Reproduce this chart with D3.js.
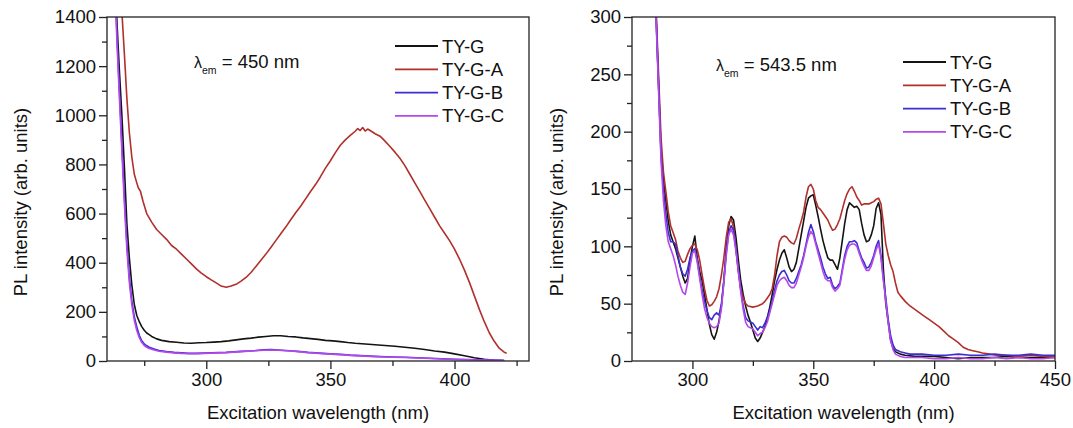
<!DOCTYPE html>
<html>
<head>
<meta charset="utf-8">
<script src="https://cdn.jsdelivr.net/npm/d3@7"></script>
<style>
    body { margin: 0; background: #fff; }
    svg { display: block; font-family: "Liberation Sans", Arial, sans-serif; }
</style>
</head>
<body>
<div class="diagram"></div>
<script>
// ---------- data ----------
let seriesNames = ["TY-G", "TY-G-A", "TY-G-B", "TY-G-C"];
let seriesColors = ["#141414", "#b0302c", "#3a2ed0", "#b448ea"];

// left panel: lambda_em = 450 nm, [excitation nm, intensity]
let leftTYG = [[262, 2000], [263, 1650], [264, 1380], [265, 1180], [266, 1000], [267, 790], [268, 560], [269, 420], [270, 310], [271, 230], [272, 185], [273, 160], [274, 140], [275, 125], [276, 114], [277, 107], [278, 100], [280, 90], [282, 84], [285, 79], [288, 76], [291, 73], [294, 72], [297, 74], [300, 75], [303, 77], [306, 79], [309, 82], [312, 86], [315, 90], [318, 93], [321, 97], [324, 100], [327, 103], [330, 103], [333, 100], [336, 98], [339, 94], [342, 91], [345, 88], [348, 84], [351, 82], [354, 79], [357, 75], [360, 72], [364, 69], [368, 66], [372, 63], [376, 60], [380, 56], [384, 52], [388, 47], [392, 41], [396, 36], [400, 29], [404, 21], [408, 13], [412, 7], [416, 3], [420, 1]];
let leftTYGA = [[262, 1900], [264, 1650], [266, 1420], [267, 1250], [268, 1070], [269, 930], [270, 830], [271, 760], [272, 725], [272.6, 705], [273.5, 690], [274.5, 650], [276, 600], [278, 565], [280, 535], [282, 515], [284, 495], [286, 470], [288, 455], [290, 435], [292, 415], [294, 395], [296, 375], [298, 358], [300, 343], [302, 330], [304, 318], [306, 305], [308, 300], [310, 305], [312, 312], [314, 325], [316, 340], [318, 360], [320, 385], [322, 410], [324, 435], [326, 462], [328, 490], [330, 518], [332, 545], [334, 575], [336, 603], [338, 630], [340, 660], [342, 690], [344, 718], [346, 750], [348, 785], [350, 815], [352, 848], [354, 878], [356, 900], [358, 918], [360, 935], [361, 946], [362, 938], [363, 950], [364, 936], [365, 944], [366, 938], [368, 925], [370, 915], [372, 895], [374, 873], [376, 850], [378, 825], [380, 795], [382, 760], [384, 725], [386, 690], [388, 655], [390, 620], [392, 585], [394, 550], [396, 520], [398, 490], [400, 455], [402, 415], [404, 370], [406, 320], [408, 265], [410, 210], [412, 160], [414, 115], [416, 80], [418, 52], [420, 36], [421, 32]];
let leftTYGB = [[262, 1950], [263, 1600], [264, 1330], [265, 1100], [266, 880], [267, 670], [268, 480], [269, 340], [270, 245], [271, 180], [272, 138], [273, 105], [274, 82], [275, 70], [276, 62], [277, 56], [279, 49], [281, 43], [284, 38], [287, 35], [290, 33], [293, 31], [296, 31], [299, 32], [302, 33], [305, 34], [308, 35], [311, 37], [314, 39], [317, 41], [320, 43], [323, 46], [326, 47], [329, 45], [332, 43], [335, 41], [338, 38], [341, 35], [344, 33], [347, 31], [350, 29], [354, 27], [358, 24], [362, 22], [366, 20], [370, 18], [375, 16], [380, 15], [385, 13], [390, 11], [395, 9], [400, 7], [405, 6], [410, 5], [415, 4], [420, 3]];
let leftTYGC = [[262, 1930], [263, 1580], [264, 1300], [265, 1070], [266, 850], [267, 640], [268, 455], [269, 320], [270, 228], [271, 165], [272, 124], [273, 95], [274, 75], [275, 63], [276, 56], [277, 51], [279, 45], [281, 40], [284, 36], [287, 33], [290, 31], [293, 30], [296, 30], [299, 31], [302, 32], [305, 33], [308, 34], [311, 36], [314, 38], [317, 40], [320, 42], [323, 44], [326, 45], [329, 44], [332, 42], [335, 40], [338, 37], [341, 34], [344, 32], [347, 30], [350, 28], [354, 26], [358, 23], [362, 21], [366, 19], [370, 17], [375, 15], [380, 14], [385, 12], [390, 10], [395, 8], [400, 6], [405, 5], [410, 4], [415, 3], [420, 2]];

// right panel: lambda_em = 543.5 nm
let rightTYG = [[281, 540], [283, 390], [285, 300], [286, 240], [287, 185], [288, 158], [289, 140], [290, 122], [291, 110], [292, 104], [293, 98], [294, 90], [295, 82], [296, 74], [297, 68], [298, 72], [299, 88], [300, 100], [301, 109], [302, 90], [303, 78], [304, 70], [305, 58], [306, 45], [307, 32], [308, 23], [309, 19], [310, 25], [311, 35], [312, 48], [313, 70], [314, 98], [315, 118], [316, 126], [317, 123], [318, 108], [319, 88], [320, 70], [321, 58], [322, 48], [323, 40], [324, 34], [325, 27], [326, 20], [327, 17], [328, 20], [329, 25], [330, 30], [331, 38], [332, 47], [333, 58], [334, 70], [335, 80], [336, 88], [337, 94], [338, 97], [339, 90], [340, 82], [341, 78], [342, 80], [343, 86], [344, 98], [345, 110], [346, 122], [347, 134], [348, 142], [349, 144], [350, 145], [351, 136], [352, 126], [353, 115], [354, 105], [355, 97], [356, 90], [357, 88], [358, 88], [359, 84], [360, 80], [361, 90], [362, 105], [363, 120], [364, 132], [365, 138], [366, 136], [367, 134], [368, 135], [369, 132], [370, 120], [371, 110], [372, 104], [373, 105], [374, 110], [375, 118], [376, 133], [377, 138], [378, 128], [379, 80], [380, 50], [381, 34], [382, 18], [383, 11], [384, 8], [386, 6], [388, 5], [392, 4], [396, 4], [400, 4], [405, 3], [410, 2], [415, 3], [420, 3], [425, 3], [430, 4], [435, 3], [440, 3], [445, 3], [450, 3]];
let rightTYGA = [[281, 520], [283, 380], [285, 305], [286, 250], [287, 195], [288, 165], [289, 148], [290, 130], [291, 118], [292, 112], [293, 106], [294, 96], [295, 90], [296, 86], [297, 87], [298, 93], [299, 98], [300, 101], [301, 102], [302, 97], [303, 88], [304, 75], [305, 63], [306, 53], [307, 48], [308, 49], [309, 52], [310, 56], [311, 63], [312, 75], [313, 90], [314, 108], [315, 121], [316, 124], [317, 117], [318, 98], [319, 78], [320, 63], [321, 55], [322, 50], [323, 48], [325, 47], [327, 48], [329, 50], [330, 52], [331, 55], [332, 58], [333, 63], [334, 75], [335, 92], [336, 104], [337, 108], [338, 109], [339, 108], [340, 105], [341, 103], [342, 102], [343, 107], [344, 115], [345, 122], [346, 130], [347, 143], [348, 152], [349, 154], [350, 150], [351, 140], [352, 134], [353, 132], [354, 129], [355, 126], [356, 123], [357, 118], [358, 114], [359, 115], [360, 119], [361, 124], [362, 132], [363, 140], [364, 146], [365, 150], [366, 152], [367, 148], [368, 143], [369, 140], [370, 136], [371, 137], [372, 137], [373, 137], [374, 138], [375, 139], [376, 141], [377, 142], [378, 137], [379, 120], [380, 102], [381, 92], [382, 84], [383, 78], [384, 68], [385, 60], [386, 57], [388, 52], [390, 48], [392, 45], [394, 42], [396, 39], [398, 36], [400, 33], [402, 30], [404, 26], [406, 22], [408, 19], [410, 16], [412, 12], [414, 10], [416, 9], [418, 8], [420, 7], [423, 6], [426, 5], [430, 5], [435, 4], [440, 5], [445, 4], [450, 4]];
let rightTYGB = [[281, 530], [283, 385], [285, 298], [286, 240], [287, 180], [288, 150], [289, 128], [290, 112], [291, 104], [292, 104], [293, 102], [294, 92], [295, 82], [296, 76], [297, 74], [298, 80], [299, 90], [300, 96], [301, 98], [302, 88], [303, 74], [304, 62], [305, 52], [306, 44], [307, 38], [308, 36], [309, 40], [310, 42], [311, 40], [312, 50], [313, 70], [314, 95], [315, 112], [316, 118], [317, 114], [318, 98], [319, 80], [320, 62], [321, 48], [322, 38], [323, 35], [324, 34], [325, 33], [326, 30], [327, 27], [328, 30], [329, 29], [330, 33], [331, 38], [332, 44], [333, 52], [334, 62], [335, 70], [336, 75], [337, 78], [338, 79], [339, 75], [340, 70], [341, 68], [342, 68], [343, 72], [344, 78], [345, 84], [346, 92], [347, 102], [348, 112], [349, 119], [350, 113], [351, 104], [352, 97], [353, 90], [354, 82], [355, 76], [356, 72], [357, 73], [358, 66], [359, 63], [360, 65], [361, 68], [362, 80], [363, 92], [364, 100], [365, 104], [366, 104], [367, 105], [368, 103], [369, 96], [370, 90], [371, 86], [372, 81], [373, 82], [374, 86], [375, 92], [376, 100], [377, 105], [378, 92], [379, 72], [380, 55], [381, 36], [382, 22], [383, 14], [384, 10], [386, 8], [388, 7], [390, 6], [395, 6], [400, 5], [405, 5], [410, 6], [415, 5], [420, 5], [425, 6], [430, 5], [435, 5], [440, 6], [445, 5], [450, 5]];
let rightTYGC = [[281, 525], [283, 380], [285, 295], [286, 235], [287, 175], [288, 140], [289, 118], [290, 104], [291, 98], [292, 92], [293, 84], [294, 74], [295, 66], [296, 60], [297, 58], [298, 68], [299, 82], [300, 94], [301, 96], [302, 86], [303, 72], [304, 58], [305, 46], [306, 38], [307, 33], [308, 30], [309, 29], [310, 30], [311, 33], [312, 46], [313, 68], [314, 92], [315, 110], [316, 115], [317, 110], [318, 96], [319, 78], [320, 60], [321, 45], [322, 34], [323, 30], [324, 29], [325, 28], [326, 25], [327, 22], [328, 24], [329, 25], [330, 29], [331, 34], [332, 42], [333, 50], [334, 58], [335, 66], [336, 70], [337, 72], [338, 73], [339, 70], [340, 66], [341, 64], [342, 64], [343, 68], [344, 75], [345, 82], [346, 90], [347, 100], [348, 108], [349, 113], [350, 110], [351, 102], [352, 94], [353, 86], [354, 78], [355, 72], [356, 70], [357, 70], [358, 64], [359, 61], [360, 63], [361, 66], [362, 78], [363, 89], [364, 97], [365, 101], [366, 102], [367, 102], [368, 100], [369, 94], [370, 88], [371, 83], [372, 79], [373, 79], [374, 83], [375, 90], [376, 97], [377, 102], [378, 90], [379, 70], [380, 52], [381, 33], [382, 18], [383, 10], [384, 6], [386, 4], [388, 3], [390, 3], [395, 3], [400, 2], [405, 2], [410, 3], [415, 2], [420, 2], [425, 3], [430, 2], [435, 3], [440, 2], [445, 2], [450, 3]];

// axes
let leftXDomain = [260, 430];
let leftXMajor = [300, 350, 400];
let leftXMinor = [275, 325, 375, 425];
let leftYDomain = [0, 1400];
let leftYMajor = [0, 200, 400, 600, 800, 1000, 1200, 1400];
let leftYMinor = [100, 300, 500, 700, 900, 1100, 1300];

let rightXDomain = [275, 450];
let rightXMajor = [300, 350, 400, 450];
let rightXMinor = [325, 375, 425];
let rightYDomain = [0, 300];
let rightYMajor = [0, 50, 100, 150, 200, 250, 300];
let rightYMinor = [25, 75, 125, 175, 225, 275];

let xTitle = "Excitation wavelength (nm)";
let yTitle = "PL intensity (arb. units)";

const FONT = 18.5;

class SpectrumPanel {
    constructor({ svg, id, left, top, width, height, xDomain, xMajor, xMinor, yDomain, yMajor, yMinor, series, emission, emPos, legendPos, yTitleX }) {
        this.svg = svg;
        this.x = d3.scaleLinear().domain(xDomain).range([left, left + width]);
        this.y = d3.scaleLinear().domain(yDomain).range([top + height, top]);
        let x = this.x, y = this.y;

        svg.append("clipPath").attr("id", id).append("rect")
            .attr("x", left).attr("y", top).attr("width", width).attr("height", height);

        // curves
        let line = d3.line().x(d => x(d[0])).y(d => y(d[1]));
        let curves = svg.append("g").attr("clip-path", "url(#" + id + ")");
        series.forEach(function (s, k) {
            curves.append("path").datum(s)
                .attr("d", line)
                .attr("fill", "none")
                .attr("stroke", seriesColors[k])
                .attr("stroke-width", 1.6)
                .attr("stroke-linejoin", "round");
        });

        // frame
        svg.append("rect").attr("x", left).attr("y", top).attr("width", width).attr("height", height)
            .attr("fill", "none").attr("stroke", "#222").attr("stroke-width", 1.3);

        // axes
        let bottom = top + height;
        let xAxis = svg.append("g").attr("transform", "translate(0," + bottom + ")")
            .call(d3.axisBottom(x).tickValues(xMajor).tickSize(8).tickPadding(4).tickFormat(d3.format("d")));
        let xMinorAxis = svg.append("g").attr("transform", "translate(0," + bottom + ")")
            .call(d3.axisBottom(x).tickValues(xMinor).tickSize(5).tickFormat(""));
        let yAxis = svg.append("g").attr("transform", "translate(" + left + ",0)")
            .call(d3.axisLeft(y).tickValues(yMajor).tickSize(8).tickPadding(3).tickFormat(d3.format("d")));
        let yMinorAxis = svg.append("g").attr("transform", "translate(" + left + ",0)")
            .call(d3.axisLeft(y).tickValues(yMinor).tickSize(5).tickFormat(""));
        [xAxis, xMinorAxis, yAxis, yMinorAxis].forEach(function (g) {
            g.select(".domain").remove();
            g.selectAll("line").attr("stroke", "#222").attr("stroke-width", 1.3);
            g.selectAll("text").attr("font-size", FONT).attr("fill", "#111").style("font-family", "Liberation Sans, Arial, sans-serif");
        });

        // titles
        svg.append("text").attr("x", left + width / 2).attr("y", 419)
            .attr("text-anchor", "middle").attr("font-size", FONT).attr("fill", "#111").text(xTitle);
        svg.append("text").attr("transform", "translate(" + yTitleX + ",202) rotate(-90)")
            .attr("text-anchor", "middle").attr("font-size", FONT).attr("fill", "#111").text(yTitle);

        // emission label
        let em = svg.append("text").attr("x", emPos[0]).attr("y", emPos[1]).attr("fill", "#111").attr("font-size", FONT);
        em.append("tspan").text("λ").attr("font-size", 16);
        em.append("tspan").text("em").attr("font-size", 10.5).attr("dy", 6);
        em.append("tspan").text(" = " + emission + " nm").attr("dy", -6);

        // legend
        let legend = svg.append("g").attr("transform", "translate(" + legendPos[0] + "," + legendPos[1] + ")");
        seriesNames.forEach(function (name, k) {
            let row = legend.append("g").attr("transform", "translate(0," + (k * 23.3) + ")");
            row.append("line").attr("x1", 0).attr("x2", 43).attr("y1", 0).attr("y2", 0)
                .attr("stroke", seriesColors[k]).attr("stroke-width", 1.8);
            row.append("text").attr("x", 47).attr("y", 6.5).attr("font-size", FONT).attr("fill", "#111").text(name);
        });
    }
}

let svg = d3.select(".diagram").append("svg").attr("width", 1073).attr("height", 428);

new SpectrumPanel({
    svg, id: "clipLeft", left: 107, top: 17, width: 422, height: 344,
    xDomain: leftXDomain, xMajor: leftXMajor, xMinor: leftXMinor,
    yDomain: leftYDomain, yMajor: leftYMajor, yMinor: leftYMinor,
    series: [leftTYG, leftTYGA, leftTYGB, leftTYGC],
    emission: "450", emPos: [194, 68], legendPos: [395, 46], yTitleX: 27
});

new SpectrumPanel({
    svg, id: "clipRight", left: 632, top: 17, width: 423, height: 344,
    xDomain: rightXDomain, xMajor: rightXMajor, xMinor: rightXMinor,
    yDomain: rightYDomain, yMajor: rightYMajor, yMinor: rightYMinor,
    series: [rightTYG, rightTYGA, rightTYGB, rightTYGC],
    emission: "543.5", emPos: [716, 71], legendPos: [903, 62], yTitleX: 563
});
</script>
</body>
</html>
